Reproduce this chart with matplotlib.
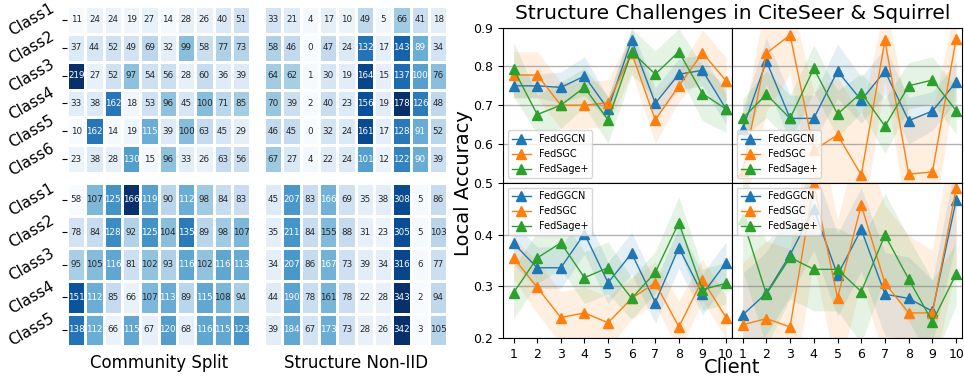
import matplotlib
matplotlib.use('Agg')
import matplotlib.pyplot as plt
import numpy as np
import seaborn as sns

# heatmap counts (rows = classes, cols = clients)
comm_citeseer = [[11, 24, 24, 19, 27, 14, 28, 26, 40, 51],
                 [37, 44, 52, 49, 69, 32, 99, 58, 77, 73],
                 [219, 27, 52, 97, 54, 56, 28, 60, 36, 39],
                 [33, 38, 162, 18, 53, 96, 45, 100, 71, 85],
                 [10, 162, 14, 19, 115, 39, 100, 63, 45, 29],
                 [23, 38, 28, 130, 15, 96, 33, 26, 63, 56]]
struct_citeseer = [[33, 21, 4, 17, 10, 49, 5, 66, 41, 18],
                   [58, 46, 0, 47, 24, 132, 17, 143, 89, 34],
                   [64, 62, 1, 30, 19, 164, 15, 137, 100, 76],
                   [70, 39, 2, 40, 23, 156, 19, 178, 126, 48],
                   [46, 45, 0, 32, 24, 161, 17, 128, 91, 52],
                   [67, 27, 4, 22, 24, 101, 12, 122, 90, 39]]
comm_squirrel = [[58, 107, 125, 166, 119, 90, 112, 98, 84, 83],
                 [78, 84, 128, 92, 125, 104, 135, 89, 98, 107],
                 [95, 105, 116, 81, 102, 93, 116, 102, 116, 113],
                 [151, 112, 85, 66, 107, 113, 89, 115, 108, 94],
                 [138, 112, 66, 115, 67, 120, 68, 116, 115, 123]]
struct_squirrel = [[45, 207, 83, 166, 69, 35, 38, 308, 5, 86],
                   [35, 211, 84, 155, 88, 31, 23, 305, 5, 103],
                   [34, 207, 86, 167, 73, 39, 34, 316, 6, 77],
                   [44, 190, 78, 161, 78, 22, 28, 343, 2, 94],
                   [39, 184, 67, 173, 73, 28, 26, 342, 3, 105]]
classes_citeseer = ['Class1', 'Class2', 'Class3', 'Class4', 'Class5', 'Class6']
classes_squirrel = ['Class1', 'Class2', 'Class3', 'Class4', 'Class5']

clients = list(range(1, 11))
methods = ['FedGGCN', 'FedSGC', 'FedSage+']

# local accuracy, mean and std per client
# CiteSeer community split
cc_mean = [[0.75, 0.75, 0.746, 0.775, 0.69, 0.868, 0.705, 0.78, 0.79, 0.69],
           [0.778, 0.778, 0.70, 0.70, 0.706, 0.835, 0.662, 0.75, 0.835, 0.763],
           [0.793, 0.676, 0.70, 0.746, 0.662, 0.838, 0.78, 0.838, 0.73, 0.69]]
cc_std = [[0.03, 0.03, 0.04, 0.05, 0.03, 0.03, 0.04, 0.04, 0.04, 0.04],
          [0.06, 0.06, 0.06, 0.06, 0.06, 0.05, 0.06, 0.04, 0.06, 0.06],
          [0.07, 0.05, 0.06, 0.05, 0.06, 0.06, 0.06, 0.06, 0.07, 0.06]]
# CiteSeer structure non-iid
cs_mean = [[0.638, 0.814, 0.666, 0.666, 0.788, 0.713, 0.788, 0.66, 0.685, 0.76],
           [0.53, 0.834, 0.881, 0.584, 0.623, 0.52, 0.867, 0.522, 0.528, 0.871],
           [0.666, 0.728, 0.666, 0.795, 0.677, 0.732, 0.646, 0.75, 0.765, 0.686]]
cs_std = [[0.05, 0.06, 0.06, 0.06, 0.07, 0.06, 0.06, 0.06, 0.05, 0.05],
          [0.12, 0.15, 0.1, 0.15, 0.15, 0.15, 0.1, 0.15, 0.15, 0.1],
          [0.05, 0.06, 0.06, 0.06, 0.06, 0.05, 0.07, 0.06, 0.06, 0.06]]
# Squirrel community split
sc_mean = [[0.383, 0.336, 0.336, 0.402, 0.307, 0.364, 0.269, 0.375, 0.285, 0.346],
           [0.355, 0.298, 0.24, 0.249, 0.23, 0.277, 0.307, 0.222, 0.313, 0.24],
           [0.288, 0.355, 0.384, 0.317, 0.336, 0.277, 0.327, 0.423, 0.294, 0.306]]
sc_std = [[0.04, 0.04, 0.04, 0.04, 0.04, 0.04, 0.04, 0.04, 0.04, 0.04],
          [0.04, 0.05, 0.05, 0.05, 0.05, 0.04, 0.04, 0.05, 0.04, 0.04],
          [0.05, 0.05, 0.05, 0.05, 0.05, 0.04, 0.04, 0.05, 0.04, 0.04]]
# Squirrel structure non-iid
ss_mean = [[0.245, 0.287, 0.361, 0.45, 0.322, 0.41, 0.285, 0.277, 0.252, 0.466],
           [0.226, 0.238, 0.222, 0.497, 0.278, 0.457, 0.306, 0.249, 0.249, 0.489],
           [0.43, 0.285, 0.356, 0.333, 0.333, 0.29, 0.399, 0.314, 0.232, 0.324]]
ss_std = [[0.08, 0.08, 0.08, 0.08, 0.08, 0.08, 0.08, 0.08, 0.06, 0.08],
          [0.12, 0.15, 0.15, 0.15, 0.15, 0.15, 0.15, 0.15, 0.12, 0.15],
          [0.1, 0.1, 0.08, 0.08, 0.08, 0.1, 0.08, 0.08, 0.08, 0.06]]

colors = ['tab:blue', 'tab:orange', 'tab:green']

fig = plt.figure(figsize=(9.64, 3.77), dpi=100)

# heatmaps
heat_pos = [(0.0695, 0.541, 0.19, 0.443), (0.274, 0.541, 0.19, 0.443),
            (0.0695, 0.082, 0.19, 0.432), (0.274, 0.082, 0.19, 0.432)]
heat_data = [comm_citeseer, struct_citeseer, comm_squirrel, struct_squirrel]
heat_labels = [classes_citeseer, None, classes_squirrel, None]
for pos, data, labels in zip(heat_pos, heat_data, heat_labels):
    ax = fig.add_axes(pos)
    sns.heatmap(np.array(data), ax=ax, annot=True, fmt='d', cmap='Blues', cbar=False,
                linewidths=0.8, linecolor='white', annot_kws={'fontsize': 6.3})
    ax.set_xticks([])
    if labels is None:
        ax.set_yticks([])
    else:
        ax.set_yticklabels(labels, rotation=30, fontsize=11)
fig.text(0.165, 0.038, 'Community Split', ha='center', va='center', fontsize=12)
fig.text(0.369, 0.038, 'Structure Non-IID', ha='center', va='center', fontsize=12)

# accuracy panels
L, M, R = 0.5218, 0.7593, 0.998
T, H, B = 0.9265, 0.5154, 0.1026
panels = [((L, H, M - L, T - H), cc_mean, cc_std, (0.5, 0.9), 'lower left'),
          ((M, H, R - M, T - H), cs_mean, cs_std, (0.5, 0.9), 'lower left'),
          ((L, B, M - L, H - B), sc_mean, sc_std, (0.2, 0.5), 'upper left'),
          ((M, B, R - M, H - B), ss_mean, ss_std, (0.2, 0.5), 'upper left')]
for i, (pos, means, stds, ylim, loc) in enumerate(panels):
    ax = fig.add_axes(pos)
    for m, s, c, name in zip(means, stds, colors, methods):
        m = np.array(m)
        s = np.array(s)
        ax.plot(clients, m, marker='^', markersize=7, linewidth=1, color=c, label=name)
        ax.fill_between(clients, m - s, m + s, color=c, alpha=0.12, linewidth=0)
    ax.set_ylim(*ylim)
    ax.set_xlim(0.55, 10.25)
    ax.set_xticks(clients)
    ax.grid(True, axis='y', color='gray', linewidth=1, alpha=0.6)
    ax.legend(loc=loc, fontsize=7)
    ax.tick_params(labelsize=9)
    for sp in ax.spines.values():
        sp.set_color('black')
    if i < 2:
        ax.tick_params(axis='x', bottom=False, labelbottom=False)
        ax.set_yticks([0.5, 0.6, 0.7, 0.8, 0.9])
    else:
        ax.set_yticks([0.2, 0.3, 0.4])
    if i % 2 == 1:
        ax.tick_params(axis='y', left=False, labelleft=False)

fig.text((L + R) / 2, 0.963, 'Structure Challenges in CiteSeer & Squirrel', ha='center', va='center', fontsize=14.5)
fig.text(0.481, (T + B) / 2, 'Local Accuracy', rotation=90, ha='center', va='center', fontsize=14)
fig.text((L + R) / 2, 0.024, 'Client', ha='center', va='center', fontsize=14)

fig.savefig('out.png', dpi=100)
